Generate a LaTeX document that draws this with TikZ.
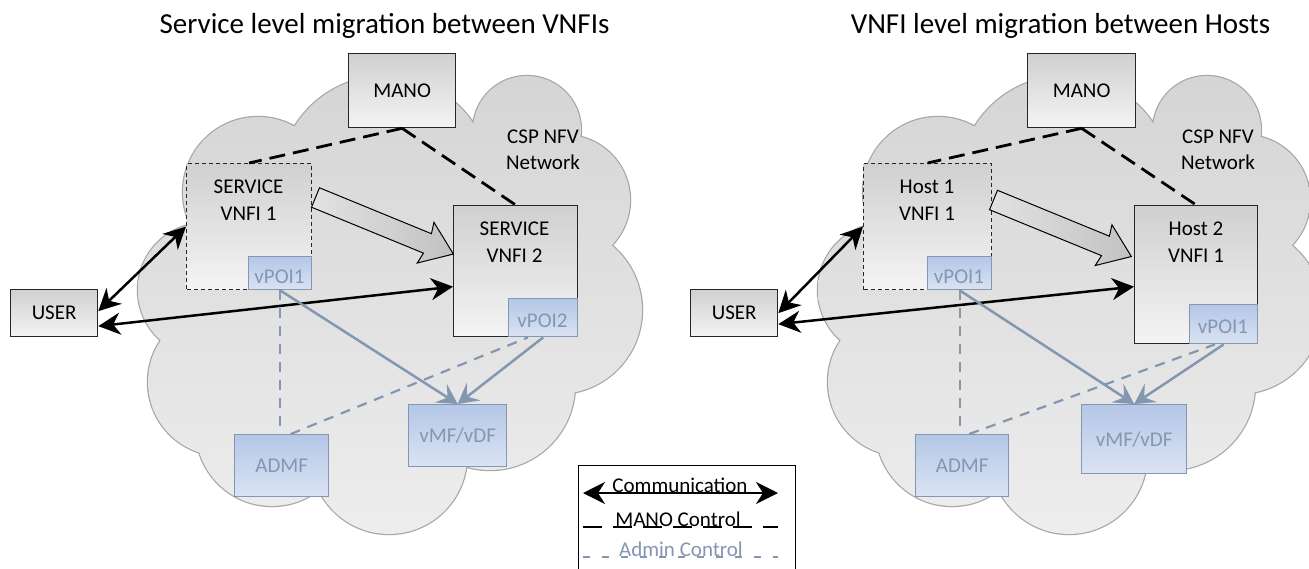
\documentclass[tikz,border=0pt]{standalone}
\usepackage{fontspec}
\setmainfont{Carlito}
\usetikzlibrary{arrows.meta,calc}
\definecolor{cloudline}{HTML}{A6A6A6}
\definecolor{cloudtop}{HTML}{D4D4D4}
\definecolor{cloudbot}{HTML}{EEEEEE}
\definecolor{boxtop}{HTML}{D0D0D0}
\definecolor{boxbot}{HTML}{F4F4F4}
\definecolor{bluetop}{HTML}{B4C7E7}
\definecolor{bluebot}{HTML}{DAE3F3}
\definecolor{bluegray}{HTML}{8497B0}
\definecolor{boxline}{HTML}{262626}
\definecolor{migrA}{HTML}{E2E2E2}
\definecolor{migrB}{HTML}{C2C2C2}
\newcommand\cloudcircles{(258,192) circle[radius=75] (385,182) circle[radius=106] (527,130) circle[radius=54] (565,200) circle[radius=65] (558,310) circle[radius=84] (490,385) circle[radius=85] (389,456) circle[radius=78] (272,430) circle[radius=76] (222,382) circle[radius=74] (205,290) circle[radius=67] (390,300) circle[radius=170]}
\newcommand\blockarrowpath{(0,-10.5) -- (121,-10.5) -- (119,-22) -- (149,0) -- (119,22) -- (121,10.5) -- (0,10.5) -- cycle}
\tikzset{
  graybox/.style={draw=boxline, line width=1.3pt, top color=boxtop, bottom color=boxbot, inner sep=0pt, anchor=north west, font=\fontsize{21}{26}\selectfont},
  dashbox/.style={graybox, line width=1.1pt, dash pattern=on 4pt off 3pt},
  bluebox/.style={draw=bluegray, line width=1.4pt, top color=bluetop, bottom color=bluebot, inner sep=0pt, anchor=north west, text=bluegray, font=\fontsize{21}{26}\selectfont},
  lbl/.style={font=\fontsize{21}{27}\selectfont, align=center, inner sep=0pt},
  bluelbl/.style={lbl, text=bluegray},
  titlelbl/.style={font=\fontsize{29}{35}\selectfont, anchor=base, inner sep=0pt},
  comm/.style={line width=2.5pt, {Stealth[length=22pt,width=22pt,inset=7pt]}-{Stealth[length=22pt,width=22pt,inset=7pt]}},
  manoline/.style={line width=2.8pt, dash pattern=on 16pt off 8pt},
  admline/.style={draw=bluegray, line width=2.2pt, dash pattern=on 10pt off 8pt},
  poiarrow/.style={draw=bluegray, line width=2.5pt, -{Stealth[length=20pt,width=22pt,inset=8pt]}},
  migr/.style={draw=black, line width=1pt, left color=migrA, right color=migrB},
  cloudedge/.style={draw=cloudline, line width=2.4pt},
}
\begin{document}
\begin{tikzpicture}[x=1pt,y=-1pt]
\useasboundingbox (0,0) rectangle (1309,568);
\clip (0,0) rectangle (1309,568);
\fill[white] (0,0) rectangle (1309,568);

% clouds
\foreach \dx in {0,680}{
  \begin{scope}[xshift=\dx pt]
    \draw[cloudedge] \cloudcircles;
    \begin{scope}
      \clip \cloudcircles;
      \shade[top color=cloudtop, bottom color=cloudbot] (120,60) rectangle (660,545);
    \end{scope}
  \end{scope}
}

% titles
\node[titlelbl] (titleL) at (384.5,33) {Service level migration between VNFIs};
\node[titlelbl] (titleR) at (1060.5,33) {VNFI level migration between Hosts};

% network labels
\node[lbl, font=\fontsize{21}{26}\selectfont] (netL) at (543,150) {CSP NFV\\Network};
\node[lbl, font=\fontsize{21}{26}\selectfont] (netR) at (1218,150) {CSP NFV\\Network};

% ---------- left diagram ----------
\node[graybox, minimum width=107pt, minimum height=74pt] (manoL) at (348,53) {MANO};
\node[graybox, minimum width=87pt, minimum height=47pt] (userL) at (10,289) {USER};
\node[dashbox, minimum width=125pt, minimum height=126pt] (vnfA) at (186,163) {};
\node[graybox, minimum width=124pt, minimum height=131pt] (vnfB) at (453,205) {};
\node[bluebox, minimum width=63pt, minimum height=33pt] (poiA) at (248,256) {};
\node[bluebox, minimum width=69pt, minimum height=38pt] (poiB) at (508,298) {};
\node[bluebox, minimum width=94pt, minimum height=62pt] (admfL) at (234,434) {ADMF};
\node[bluebox, minimum width=98pt, minimum height=62pt] (vmfL) at (408,404) {vMF/vDF};
\node[lbl] (vnfAt) at (248.5,200.5) {SERVICE\\VNFI 1};
\node[lbl] (vnfBt) at (514.5,242) {SERVICE\\VNFI 2};
\node[bluelbl] (poiAt) at (279.5,277) {vPOI1};
\node[bluelbl] (poiBt) at (542.5,321) {vPOI2};

\begin{scope}[shift={(315.5,197.5)}, rotate=-22.3]
  \path[migr] \blockarrowpath;
\end{scope}

\draw[manoline] (manoL.south) -- (vnfA.north);
\draw[manoline] (manoL.south) -- (vnfB.north);
\draw[comm] ($(userL.east)+(0,-2)$) -- (vnfA.west);
\draw[comm] ($(userL.east)+(0,13)$) -- ($(vnfB.west)+(0,15.5)$);
\draw[poiarrow] (poiA.south) -- (vmfL.north);
\draw[poiarrow] (poiB.south) -- (vmfL.north);
\draw[admline] (poiA.south) -- (poiA.south |- admfL.north);
\draw[admline] ($(admfL.north)+(9,0)$) -- ($(poiB.south west)+(20,0)$);

% ---------- right diagram ----------
\node[graybox, minimum width=108pt, minimum height=74pt] (manoR) at (1027,53) {MANO};
\node[graybox, minimum width=87pt, minimum height=47pt] (userR) at (690,289) {USER};
\node[dashbox, minimum width=128pt, minimum height=126pt] (hostA) at (863,163) {};
\node[graybox, minimum width=123pt, minimum height=138pt] (hostB) at (1134,205) {};
\node[bluebox, minimum width=64pt, minimum height=33pt] (poiC) at (927,256) {};
\node[bluebox, minimum width=68pt, minimum height=39pt] (poiD) at (1189,304) {};
\node[bluebox, minimum width=93pt, minimum height=62pt] (admfR) at (915,434) {ADMF};
\node[bluebox, minimum width=105pt, minimum height=69pt] (vmfR) at (1081,404) {vMF/vDF};
\node[lbl] (hostAt) at (927,200.5) {Host 1\\VNFI 1};
\node[lbl] (hostBt) at (1196,242) {Host 2\\VNFI 1};
\node[bluelbl] (poiCt) at (959,277) {vPOI1};
\node[bluelbl] (poiDt) at (1223,327) {vPOI1};

\begin{scope}[shift={(993.5,200)}, rotate=-22.3]
  \path[migr] \blockarrowpath;
\end{scope}

\draw[manoline] (manoR.south) -- (hostA.north);
\draw[manoline] (manoR.south) -- (hostB.north);
\draw[comm] (userR.east) -- (hostA.west);
\draw[comm] ($(userR.east)+(0,11)$) -- ($(hostB.west)+(0,12)$);
\draw[poiarrow] (poiC.south) -- (vmfR.north);
\draw[poiarrow] (poiD.south) -- (vmfR.north);
\draw[admline] (poiC.south) -- (poiC.south |- admfR.north);
\draw[admline] ($(admfR.north)+(7,0)$) -- ($(poiD.south west)+(26,0)$);

% ---------- legend ----------
\node[draw=black, line width=1pt, fill=white, anchor=north west, minimum width=217pt, minimum height=130pt, inner sep=0pt] (legend) at (578,465) {};
\coordinate (c1a) at (583,493);
\coordinate (c1b) at (778,493);
\coordinate (c2a) at (583,527);
\coordinate (c2b) at (778,527);
\coordinate (c3a) at (583,557);
\coordinate (c3b) at (778,557);
\draw[comm] (c1a) -- (c1b);
\draw[line width=2.6pt, dash pattern=on 19pt off 11pt] (c2a) -- (c2b);
\draw[draw=bluegray, line width=1.8pt, dash pattern=on 7pt off 12pt] (c3a) -- (c3b);
\node[lbl, anchor=base] (legCt) at (680,492) {Communication};
\node[lbl, anchor=base] (legMt) at (678,526) {MANO Control};
\node[bluelbl, anchor=base] (legAt) at (681,556) {Admin Control};
\end{tikzpicture}
\end{document}
